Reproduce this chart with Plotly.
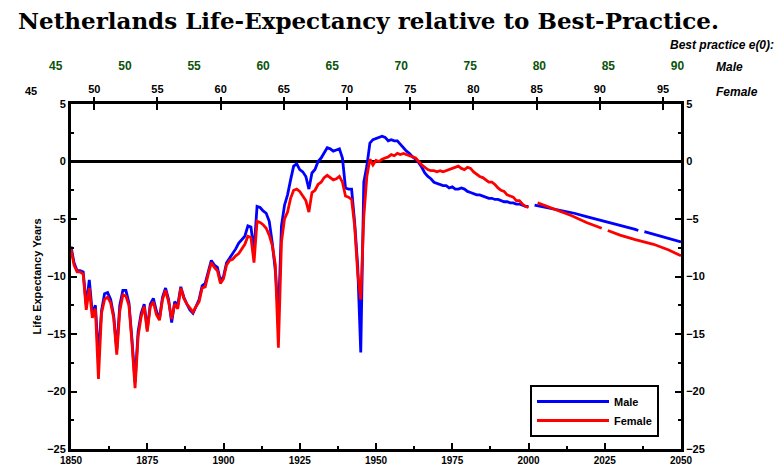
import plotly.graph_objects as go

# ---------------- data ----------------
years = list(range(1850, 2001))

male = [
    -7.4, -8.8, -9.5, -9.5, -9.6, -12.5, -10.3, -13.2, -12.5, -17.0,   # 1850-59
    -13.0, -11.5, -11.4, -12.0, -13.4, -16.4, -12.5, -11.2, -11.2, -12.3,  # 1860-69
    -15.5, -19.2, -14.8, -13.2, -12.4, -14.6, -12.4, -11.9, -13.0, -13.7,  # 1870-79
    -11.8, -11.0, -12.0, -14.0, -12.2, -12.5, -10.9, -11.8, -12.4, -12.9,  # 1880-89
    -13.2, -12.6, -12.0, -10.8, -10.6, -9.6, -8.6, -9.0, -9.2, -10.4,      # 1890-99
    -10.0, -8.8, -8.4, -8.1, -7.6, -7.1, -6.8, -6.5, -5.6, -5.7,           # 1900-09
    -7.8, -3.9, -4.0, -4.3, -4.5, -5.2, -7.1, -9.5, -13.5, -5.6,           # 1910-19
    -3.8, -2.9, -1.6, -0.4, -0.2, -0.7, -0.9, -1.3, -2.4, -1.0,            # 1920-29
    -0.7, 0.0, 0.3, 0.8, 1.2, 1.1, 0.9, 1.0, 1.1, 0.3,                     # 1930-39
    -2.3, -2.4, -2.4, -5.3, -9.1, -16.6, -1.8, -0.4, 1.6, 1.9,             # 1940-49
    2.0, 2.1, 2.2, 2.1, 1.8, 1.9, 1.8, 1.8, 1.5, 1.2,                      # 1950-59
    0.9, 0.7, 0.4, 0.2, -0.1, -0.5, -1.0, -1.3, -1.5, -1.8,                # 1960-69
    -1.9, -2.0, -2.1, -2.1, -2.3, -2.2, -2.4, -2.4, -2.3, -2.4,            # 1970-79
    -2.6, -2.7, -2.8, -2.9, -2.9, -3.0, -3.1, -3.2, -3.2, -3.3,            # 1980-89
    -3.3, -3.4, -3.5, -3.5, -3.6, -3.6, -3.7, -3.7, -3.8, -3.9,            # 1990-99
    -3.9,                                                                  # 2000
]

female = [
    -7.6, -9.0, -9.6, -9.6, -9.8, -12.9, -11.0, -13.6, -12.8, -18.9,
    -13.2, -12.0, -11.8, -12.3, -13.6, -16.8, -13.0, -11.6, -11.7, -12.5,
    -15.8, -19.7, -15.2, -13.5, -12.6, -14.8, -12.6, -12.2, -13.3, -13.8,
    -12.0, -11.2, -12.2, -13.7, -12.4, -12.8, -11.0, -11.9, -12.4, -12.8,
    -13.1, -12.6, -12.2, -11.0, -10.9, -9.8, -8.8, -9.2, -9.5, -10.6,
    -10.2, -9.0, -8.6, -8.5, -8.2, -8.0, -7.6, -7.2, -6.5, -6.6,
    -8.8, -5.2, -5.3, -5.5, -5.8, -6.4, -7.3, -9.0, -16.2, -7.0,
    -5.0, -4.4, -3.2, -2.5, -2.4, -2.6, -3.0, -3.4, -4.4, -2.7,
    -2.5, -2.0, -1.8, -1.4, -1.2, -1.4, -1.6, -1.5, -1.3, -1.8,
    -3.0, -3.1, -3.3, -5.6, -9.7, -12.0, -4.8, -1.3, 0.2, -0.3,
    0.1, 0.0, 0.2, 0.3, 0.4, 0.6, 0.5, 0.7, 0.6, 0.7,
    0.6, 0.5, 0.4, 0.3, 0.0, -0.3, -0.5, -0.7, -0.8, -0.8,
    -0.9, -0.8, -0.9, -0.8, -0.7, -0.6, -0.5, -0.4, -0.6, -0.7,
    -0.5, -0.6, -0.9, -1.1, -1.3, -1.4, -1.6, -1.8, -1.8, -2.0,
    -2.3, -2.5, -2.6, -2.9, -3.0, -3.1, -3.4, -3.4, -3.7, -3.9,
    -4.0,
]

# projections (None = gap in the drawn line)
proj_years_m = [2000, 2002, 2004, 2010, 2015, 2019, 2025, 2030, 2035, 2036, 2037, 2038, 2042, 2046, 2050]
proj_male = [None, -3.8, -3.9, -4.2, -4.5, -4.8, -5.2, -5.5, -5.9, -6.0, None, -6.1, -6.4, -6.7, -7.0]

proj_years_f = [2000, 2003, 2008, 2014, 2019, 2024, 2025, 2026, 2030, 2035, 2041, 2046, 2050]
proj_female = [None, -3.6, -4.1, -4.7, -5.3, -5.8, None, -6.0, -6.4, -6.8, -7.2, -7.7, -8.2]

x_ticks = [1850, 1875, 1900, 1925, 1950, 1975, 2000, 2025, 2050]
y_ticks = [5, 0, -5, -10, -15, -20, -25]
female_e0_ticks = [50, 55, 60, 65, 70, 75, 80, 85, 90, 95]
male_e0_ticks = [50, 55, 60, 65, 70, 75, 80, 85, 90]

# best-practice e(0) scale ranges at plot edges (1850 .. 2050)
female_e0_range = [48.16, 96.42]
male_e0_range = [46.09, 90.26]

BLUE = "#0000ff"
RED = "#ff0000"
GREEN = "#0b530b"
FONT = "Liberation Sans"

# plot box in pixels
L, R, T, B = 71, 681, 104, 449
W, H = 777, 468
PW, PH = R - L, B - T

def px_x(px):
    return (px - L) / PW

def px_y(py):
    return (B - py) / PH

fig = go.Figure()

fig.add_trace(go.Scatter(x=years, y=male, mode="lines", name="Male",
                         line=dict(color=BLUE, width=2.8)))
fig.add_trace(go.Scatter(x=years, y=female, mode="lines", name="Female",
                         line=dict(color=RED, width=2.8)))
fig.add_trace(go.Scatter(x=proj_years_m, y=proj_male, mode="lines", showlegend=False,
                         line=dict(color=BLUE, width=2.8)))
fig.add_trace(go.Scatter(x=proj_years_f, y=proj_female, mode="lines", showlegend=False,
                         line=dict(color=RED, width=2.8)))

# dummy traces to activate overlay axes
fig.add_trace(go.Scatter(x=[None], y=[None], xaxis="x2", yaxis="y", showlegend=False))
fig.add_trace(go.Scatter(x=[None], y=[None], xaxis="x3", yaxis="y", showlegend=False))
fig.add_trace(go.Scatter(x=[None], y=[None], xaxis="x4", yaxis="y", showlegend=False))
fig.add_trace(go.Scatter(x=[None], y=[None], xaxis="x", yaxis="y2", showlegend=False))

tickfont = dict(family=FONT, size=11, color="black", weight="bold")
greenfont = dict(family=FONT, size=12, color=GREEN, weight="bold")

fig.update_layout(
    width=W, height=H,
    margin=dict(l=L, r=W - R, t=T, b=H - B, autoexpand=False),
    paper_bgcolor="white", plot_bgcolor="white",
    showlegend=True,
    title=dict(text="Netherlands Life-Expectancy relative to Best-Practice.",
               x=18 / W, xanchor="left", y=1 - 21 / H, yanchor="middle",
               font=dict(family="DejaVu Serif", size=23, color="black", weight="bold")),
    xaxis=dict(range=[1850, 2050], tickvals=x_ticks, ticks="inside", ticklen=6, tickwidth=2,
               tickcolor="black", showline=True, linecolor="black", linewidth=3, mirror=True,
               showgrid=False, zeroline=False, automargin=False,
               tickfont=dict(family=FONT, size=10, color="black", weight="bold"),
               minor=dict(dtick=12.5, tick0=1850, ticks="inside", ticklen=3, tickwidth=2, tickcolor="black")),
    xaxis2=dict(overlaying="x", side="top", anchor="y", range=female_e0_range,
                tickvals=female_e0_ticks, ticks="outside", ticklen=6, tickwidth=2, tickcolor="black",
                showline=False, showgrid=False, zeroline=False, automargin=False, tickfont=tickfont),
    xaxis3=dict(overlaying="x", side="top", anchor="y", range=female_e0_range,
                tickvals=female_e0_ticks, ticks="inside", ticklen=6, tickwidth=2, tickcolor="black",
                showticklabels=False, showline=False, showgrid=False, zeroline=False, automargin=False),
    xaxis4=dict(overlaying="x", side="top", anchor="y", range=male_e0_range,
                tickvals=male_e0_ticks, ticks="", showline=False, showgrid=False, zeroline=False,
                automargin=False, ticklabelstandoff=31, tickfont=greenfont),
    yaxis=dict(range=[-25, 5], tickvals=y_ticks, ticks="inside", ticklen=6, tickwidth=2,
               tickcolor="black", showline=True, linecolor="black", linewidth=3,
               showgrid=False, zeroline=True, zerolinecolor="black", zerolinewidth=3,
               automargin=False, tickfont=tickfont,
               minor=dict(dtick=2.5, tick0=0, ticks="inside", ticklen=3, tickwidth=2, tickcolor="black"),
               title=dict(text="Life Expectancy Years", standoff=4,
                          font=dict(family=FONT, size=11, color="black", weight="bold"))),
    yaxis2=dict(overlaying="y", side="right", anchor="x", range=[-25, 5], tickvals=y_ticks,
                ticks="inside", ticklen=6, tickwidth=2, tickcolor="black",
                showline=True, linecolor="black", linewidth=3, showgrid=False, zeroline=False,
                automargin=False, tickfont=tickfont,
                minor=dict(dtick=2.5, tick0=0, ticks="inside", ticklen=3, tickwidth=2, tickcolor="black")),
    legend=dict(x=px_x(659), xanchor="right", y=px_y(411), yanchor="middle",
                bgcolor="white", bordercolor="black", borderwidth=2,
                font=dict(family=FONT, size=11, color="black", weight="bold"),
                itemwidth=72, tracegroupgap=0),
)

# "45" labels that fall left of the plot edge on the two best-practice scales
def frac(v, r):
    return (v - r[0]) / (r[1] - r[0])

fig.add_annotation(text="45", x=frac(45, female_e0_range), xref="paper", xanchor="center",
                   y=px_y(91), yref="paper", yanchor="middle", showarrow=False, font=tickfont)
fig.add_annotation(text="45", x=frac(45, male_e0_range), xref="paper", xanchor="center",
                   y=px_y(66), yref="paper", yanchor="middle", showarrow=False, font=greenfont)

hdr = dict(family=FONT, size=12, color="black", weight="bold")
fig.add_annotation(text="<i>Best practice e(0):</i>", x=px_x(776), xref="paper", xanchor="right",
                   y=px_y(45), yref="paper", yanchor="middle", showarrow=False, font=hdr)
fig.add_annotation(text="<i>Male</i>", x=px_x(714), xref="paper", xanchor="left",
                   y=px_y(67), yref="paper", yanchor="middle", showarrow=False, font=hdr)
fig.add_annotation(text="<i>Female</i>", x=px_x(714), xref="paper", xanchor="left",
                   y=px_y(92), yref="paper", yanchor="middle", showarrow=False, font=hdr)

fig.write_html("out.html", config={"displayModeBar": False},
               post_script="document.body.style.margin='0px';")
